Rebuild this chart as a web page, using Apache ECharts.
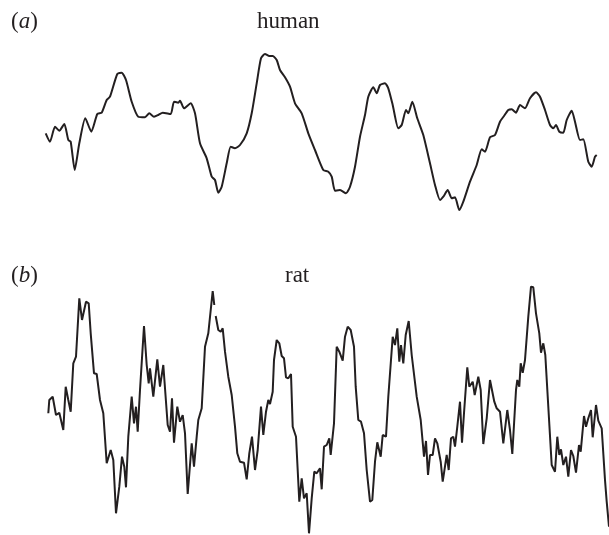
<!DOCTYPE html>
<html>
<head>
<meta charset="utf-8">
<script src="https://cdn.jsdelivr.net/npm/echarts@6/dist/echarts.min.js"></script>
<style>html,body{margin:0;padding:0;background:#fff}#c{width:609px;height:535px}</style>
</head>
<body>
<div id="c"></div>
<script>
// Panel labels
var panelLetters = ['a', 'b'];
var panelTitles = ['human', 'rat'];

// (a) human trace: time (arbitrary units) and amplitude (arbitrary units)
var humanTime = [0.7,5,10,14.3,19.3,23.3,25.7,29.7,34.3,40.3,46.3,52.3,56.7,61.7,65,72.3,76.7,81,86.7,93.3,100,104.3,109,113.3,117.7,125.7,129,133.3,135,139,145.7,150,155,161.7,166.7,170,173.3,176.7,181.7,185.7,190,195,201.7,206.7,211.7,216,220,224.3,227.7,231.7,235,240,245,250,256.7,263.3,270,278.3,283.3,286.7,290,295,301,305,310,315,320,323.3,328.3,331.7,335,340,343.3,347.7,353.3,356.7,361,363.3,367.3,372.3,378.3,385,390,395,398.3,402.7,406.7,410,414.3,418.3,425,431.7,436.7,440,445,450,455,459,463.3,466.7,471,475,480,485,491,495,500,505,508.3,511,514.3,518.3,521.7,526.7,530,535,538.3,543.3,546.7,550,551.7];
var humanAmp = [78.7,70.3,85.3,81.3,88,72,70.3,42,68.7,93.7,80.3,98,99.3,112,115.3,138,139.3,132,110.3,95.3,94.7,98.7,95.3,97,99.3,98,110.3,109.3,111.3,103.7,108.7,98.7,68.7,53.7,35.3,32,19.3,25.3,48.7,65.3,63.7,67,78.7,98.7,128.7,153.7,158,156,156,152,142,134.7,125.3,108.7,98.7,78.7,62,42,40.3,35.3,21.3,22,18.7,25.3,45.3,75.3,97,115.3,124.7,118.7,127,128.7,123.7,107,83.7,87,102,98.7,110.3,93.7,77,48.7,27,12,15.3,22,13.7,14.7,2,10.3,30.3,47,62.7,60.3,74.7,77,90.3,96,102,102.7,99.3,107,103.7,113.7,119.7,115.3,102,87,83.7,87,80.3,79.3,92,101.3,90.3,72,72.7,50.3,45.3,55.3,57];

// (b) rat trace (null = gap in the recording)
var ratTime = [3.3,4.3,7.7,11,14.3,18.3,20.7,23.3,25.7,28.3,31,34.3,37,41,43.7,45.7,49,51.7,55,58.3,61.7,65.7,68.3,71,74.3,77,79.3,81,83.3,86.7,89,91,92.7,95,99,101.7,103.7,105,108.3,112.3,115,118.3,122.7,125,127,129,132.3,135,137.7,140,142.7,146.7,149,151.7,153.3,156.7,160,163.3,167.7,169.3,170,170.7,173.3,175.7,177.7,180,183.3,186.7,190,192.3,195,199,201.7,204.3,207,210,212.7,216,218.3,221,223.3,225,227.7,229,231.7,234.3,236.7,239,241,243.3,246,247.7,251,254.3,256.7,259,261.7,264,266.7,269.3,271.7,275,276.7,279,281.7,284.3,285.7,289,291.7,294.3,296,297.7,300,302.7,305.7,309,310.7,313.3,316,319,321.7,325,327.3,330,332.3,335.7,337.7,341,343.3,347.7,350,352.3,354.3,356,358.3,360.7,363.7,366.7,371.7,375.7,379,381,383,385,387.7,390,392.3,395.7,397.7,401.7,403.7,406,408.3,410,412.3,415,417,419,422.3,424.3,427.7,429.7,433.3,435.7,438.3,441.7,445,446.7,449.3,451.7,455,458.3,462.3,465,467.3,471,472.3,474.3,475.7,477.7,480,483.3,486,488.3,491,494.3,496,498.3,500.3,503.3,506.7,510,512.3,514.3,516,518.3,521,523.3,526,528.3,531,534,535.7,539,541,543.3,546,547.7,551,553.3,556.7,560,561.7,564];
var ratAmp = [121.7,135,138.3,120,122.3,105,148.3,135,123.3,171.7,178.3,236.7,215,233.3,231.7,201.7,161.7,161,135,121.7,71.7,85,75,21.7,48.3,78.3,68.3,47.7,98.3,138.3,111.7,128.3,103.3,145,209,170,151.7,166.7,138.3,175.7,148.3,170,110,103.3,136.7,92.3,128.3,113.3,120,101.7,41,91.7,68.3,98.3,115,126.7,188.3,201.7,244,230,null,219,205,203.3,206.7,183.3,158.3,140,108.3,81.7,73.3,72.3,55.7,81.7,98.3,65,85,128.3,100,123.3,135,131,143.3,175,195,191.7,179,176.7,157.7,156.7,161,108.3,98.3,33.3,56.7,36.7,41.7,1.7,36.7,63.3,61.7,66.7,45.7,88.3,90,96.7,80,111.7,188.3,183.3,184,174.3,198.3,208.3,205,188.3,148.3,115,113.3,101.7,65,33.3,35,73.3,92.7,78.3,100,98.3,138.3,198.3,190,206.7,173.3,190,171.7,200,214,180,138.3,115,78.3,94,60,80,80,96.7,91.7,73.3,53.3,80,65,96.7,98.3,88.3,108.3,133.3,92.3,121.7,167.7,148.3,153.3,140,158.3,145,91,116.7,155,153.3,133.3,126.7,123.3,91.7,125,105,81,145,155,148.3,171.7,162.3,175,218.3,248.3,247.7,221.7,201.7,182.3,191.7,180,128.3,70,63.3,98.3,80,85.7,70,78.3,58.3,85,79,62.3,90,83.3,119,108.3,116.7,125,97.7,130,114.3,106.7,55,33.3,8.3];

function pairs(t, a) {
  return t.map(function (x, i) { return [x, a[i] === null ? '-' : a[i]]; });
}

var chart = echarts.init(document.getElementById('c'), null, { renderer: 'canvas' });
var serif = '"Liberation Serif", "DejaVu Serif", serif';
var ink = '#231f20';

function label(letter, title, top, titleLeft) {
  return [{
    text: '{p|(}{i|' + letter + '}{p|)}',
    left: 6, top: top,
    textStyle: {
      fontWeight: 'normal',
      rich: {
        p: { fontFamily: serif, fontSize: 23, fontWeight: 'normal', color: ink },
        i: { fontFamily: serif, fontSize: 23, fontWeight: 'normal', fontStyle: 'italic', color: ink }
      }
    }
  }, {
    text: title,
    left: titleLeft, top: top,
    textStyle: { fontFamily: serif, fontSize: 23, fontWeight: 'normal', color: ink }
  }];
}

chart.setOption({
  animation: false,
  backgroundColor: '#fff',
  title: label(panelLetters[0], panelTitles[0], 5, 252).concat(label(panelLetters[1], panelTitles[1], 259, 280)),
  grid: [
    { left: 45, right: 0, top: 50, height: 162 },
    { left: 45, right: 0, top: 285, height: 250 }
  ],
  xAxis: [
    { type: 'value', gridIndex: 0, min: 0, max: 564, show: false },
    { type: 'value', gridIndex: 1, min: 0, max: 564, show: false }
  ],
  yAxis: [
    { type: 'value', gridIndex: 0, min: 0, max: 162, show: false },
    { type: 'value', gridIndex: 1, min: 0, max: 250, show: false }
  ],
  series: [
    {
      type: 'line', xAxisIndex: 0, yAxisIndex: 0, data: pairs(humanTime, humanAmp),
      showSymbol: false, clip: false, smooth: 0.2,
      lineStyle: { color: ink, width: 2 }
    },
    {
      type: 'line', xAxisIndex: 1, yAxisIndex: 1, data: pairs(ratTime, ratAmp),
      showSymbol: false, clip: false, connectNulls: false,
      lineStyle: { color: ink, width: 2 }
    }
  ]
});
</script>
</body>
</html>
